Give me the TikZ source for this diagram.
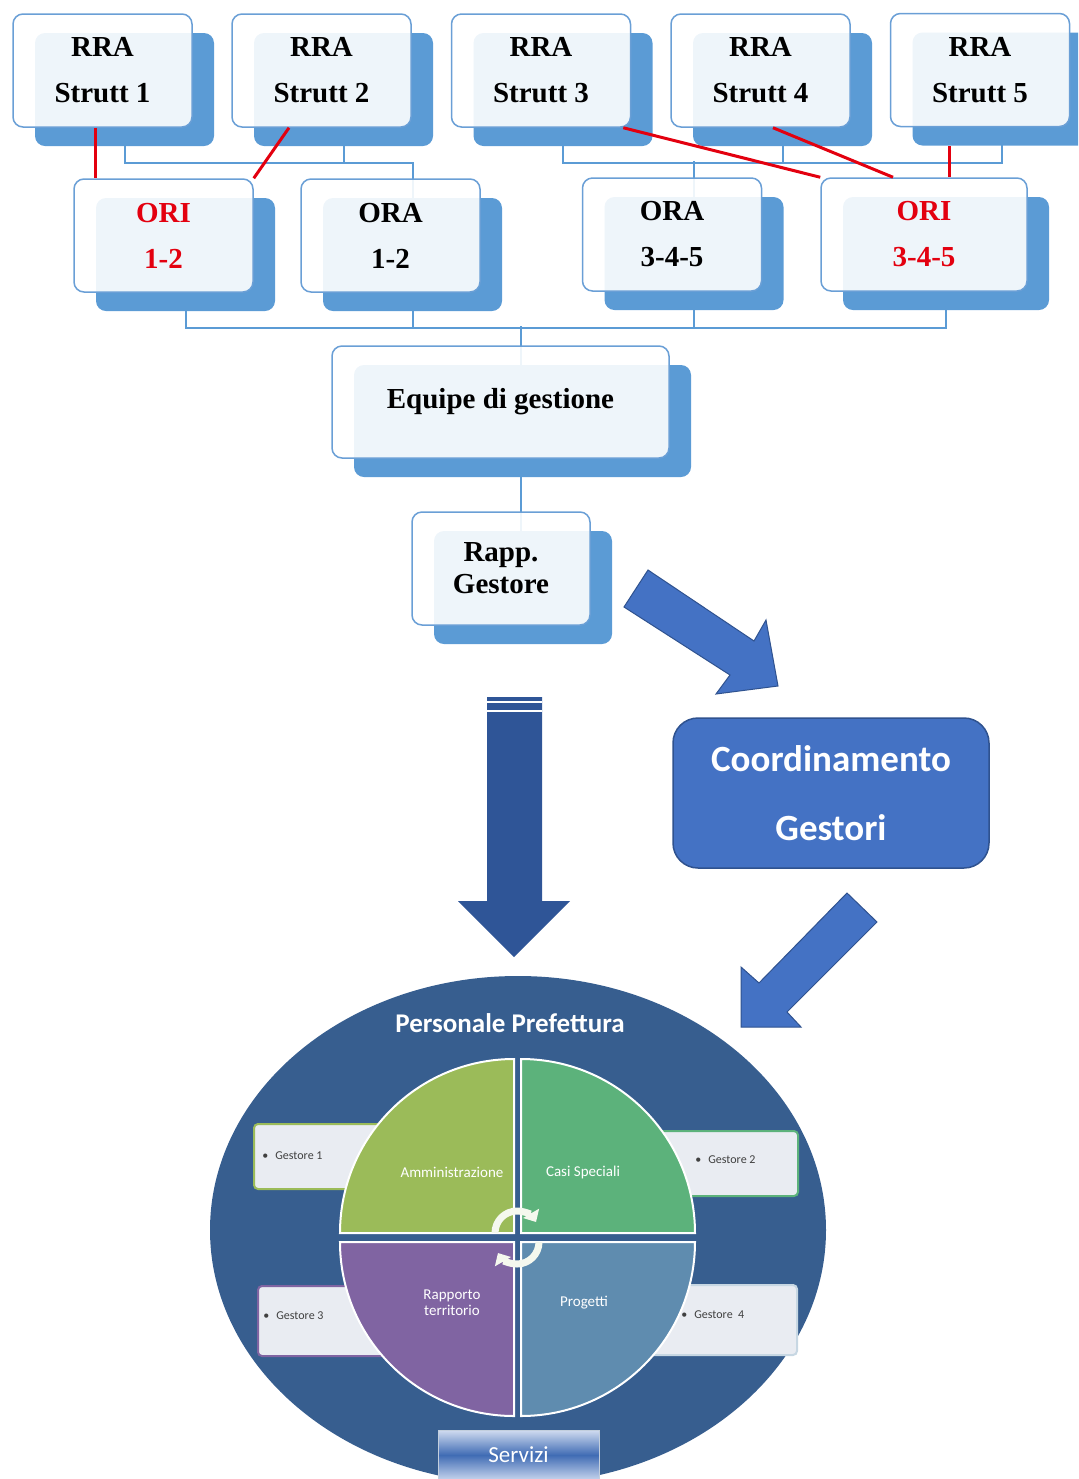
\documentclass[tikz,border=0pt]{standalone}
\usepackage{fontspec}
\setmainfont{Liberation Serif}
\newfontfamily\calibri{Carlito}
\usetikzlibrary{shadows,backgrounds,shapes.geometric,arrows.meta}

\definecolor{bleuboite}{HTML}{5B9BD5}
\definecolor{bordboite}{HTML}{6A9FD6}
\definecolor{rougeori}{HTML}{E3000F}
\definecolor{bleufleche}{HTML}{4472C4}
\definecolor{bordfleche}{HTML}{2F528F}
\definecolor{bleufonce}{HTML}{2F5597}
\definecolor{bleucercle}{HTML}{375E8F}
\definecolor{vertA}{HTML}{9BBB59}
\definecolor{vertB}{HTML}{5CB27B}
\definecolor{violetC}{HTML}{8064A2}
\definecolor{bleuD}{HTML}{5F8CAF}
\definecolor{grisfond}{HTML}{E9ECF2}

\tikzset{
  boite/.style={draw=bordboite, line width=0.75pt, fill=white, fill opacity=0.9, text opacity=1,
    rounded corners=5pt, minimum width=89.5pt, minimum height=56.5pt, inner sep=0pt, align=center,
    font=\bfseries\fontsize{14.5}{23}\selectfont,
    drop shadow={shadow xshift=11pt, shadow yshift=-9.5pt, fill=bleuboite, opacity=1}},
  lien/.style={draw=bleuboite, line width=1pt},
  rouge/.style={draw=rougeori, line width=1.5pt},
  fleche/.style={fill=bleufleche, draw=bordfleche, line width=0.5pt},
  quart/.style={draw=white, line width=1pt},
  gestbox/.style={draw=#1, line width=1pt, fill=grisfond, rounded corners=2pt, inner sep=0pt},
  gesttxt/.style={anchor=west, inner sep=0pt, text=black!75, font=\calibri\fontsize{6}{7}\selectfont},
  quarttxt/.style={text=white, align=center, inner sep=0pt, font=\calibri\fontsize{7.5}{8}\selectfont},
  tourne/.style={draw=white!90!vertA, line width=3.5pt, -{Triangle[width=9pt,length=5pt]}},
}

\begin{document}
\begin{tikzpicture}[x=0.5pt,y=0.5pt]
\useasboundingbox (0,0) rectangle (1078,-1479);
\clip (0,0) rectangle (1078,-1479);

% les cinq structures
\node[boite] (s1) at (102.5,-70.5) {RRA\\Strutt 1};
\node[boite] (s2) at (321.5,-70.5) {RRA\\Strutt 2};
\node[boite] (s3) at (541,-70.5) {RRA\\Strutt 3};
\node[boite] (s4) at (760.5,-70.5) {RRA\\Strutt 4};
\node[boite] (s5) at (980,-70) {RRA\\Strutt 5};

\node[boite, text=rougeori] (ori12) at (163.5,-235.5) {ORI\\1-2};
\node[boite] (ora12) at (390.5,-235.5) {ORA\\1-2};
\node[boite] (ora345) at (672,-234.5) {ORA\\3-4-5};
\node[boite, text=rougeori, minimum width=103pt] (ori345) at (924,-234.5) {ORI\\3-4-5};

\node[boite, minimum width=168.5pt, minimum height=56pt] (eq) at (500.5,-402) {Equipe di gestione};
\node[boite, minimum width=89pt, font=\bfseries\fontsize{14.5}{16}\selectfont] (rg) at (501,-568.5) {Rapp.\\Gestore};

\begin{scope}[on background layer] % traits bleus sous les boites
\draw[lien] ([xshift=11pt]s1.south) -- ++(0,-35) -| ([xshift=11pt,yshift=-10pt]ora12.north);
\draw[lien] ([xshift=11pt]s2.south) -- ++(0,-35);
\draw[lien] ([xshift=11pt]s3.south) -- ++(0,-35) -| ([xshift=11pt]s5.south);
\draw[lien] ([xshift=11pt]s4.south) -- ++(0,-35);
\draw[lien] ([xshift=11pt,yshift=-10pt]ora345.north) -- ++(0,36);
\draw[lien] ([xshift=11pt]ori12.south) -- ++(0,-35) -| ([xshift=11pt]ori345.south);
\draw[lien] ([xshift=11pt]ora12.south) -- ++(0,-35);
\draw[lien] ([xshift=11pt]ora345.south) -- ++(0,-35);
\draw[lien] ([xshift=10.25pt,yshift=-10pt]eq.north) -- ++(0,39);
\draw[lien] ([xshift=10.25pt]eq.south) -- ([xshift=10pt,yshift=-10pt]rg.north);
\end{scope}

% liens ORI en rouge
\coordinate (r1) at ([xshift=-3.75pt]s1.south);
\coordinate (r5) at ([xshift=-15.5pt,yshift=-9.5pt]s5.south);
\draw[rouge] (r1) -- (r1 |- ori12.north);
\draw[rouge] ([xshift=-16.25pt]s2.south) -- (ori12.north east);
\draw[rouge] ([xshift=-4pt]s3.south east) -- (ori345.north west);
\draw[rouge] ([xshift=6.25pt]s4.south) -- ([xshift=-15.5pt]ori345.north);
\draw[rouge] (r5) -- (r5 |- ori345.north);

% grosses fleches
\filldraw[fleche] (624,-607) -- (648,-570) -- (754,-641) -- (766,-620) -- (778,-686) -- (716,-694) -- (730,-675) -- cycle;
\fill[bleufonce] (487,-697) -- (542,-697) -- (542,-901) -- (570,-901) -- (514,-957) -- (458,-901) -- (487,-901) -- cycle;
\draw[white, line width=0.75pt] (487,-702) -- (542,-702) (487,-711) -- (542,-711);
\filldraw[fleche] (877,-922) -- (847,-893) -- (759,-983) -- (741,-967) -- (741,-1027) -- (801,-1027) -- (787,-1012) -- cycle;

\node[draw=bordfleche, line width=0.75pt, fill=bleufleche, rounded corners=12.5pt, minimum width=158pt, minimum height=75pt,
  text=white, align=center, font=\calibri\bfseries\fontsize{18.5}{34.5}\selectfont] (coord) at (831,-793) {Coordinamento\\Gestori};

% le cercle de la prefecture
\node[ellipse, fill=bleucercle, minimum width=308pt, minimum height=254pt, inner sep=0pt] (pers) at (518,-1230) {};
\node[text=white, font=\calibri\bfseries\fontsize{13.5}{16}\selectfont] (titre) at (510,-1023) {Personale Prefettura};

\node[gestbox=vertA, minimum width=75pt, minimum height=32.5pt] (g1b) at (329,-1156.5) {};
\node[gestbox=vertB, minimum width=74pt, minimum height=32.5pt] (g2b) at (724,-1163.5) {};
\node[gestbox=violetC, minimum width=75pt, minimum height=35pt] (g3b) at (333,-1321) {};
\node[gestbox=bleuD!35!white, minimum width=74.5pt, minimum height=35pt] (g4b) at (722.5,-1320) {};

\filldraw[quart, fill=vertA] (514,-1233) -- (340,-1233) arc[start angle=180, end angle=90, radius=87pt] -- cycle;
\filldraw[quart, fill=vertB] (521,-1233) -- (521,-1059) arc[start angle=90, end angle=0, radius=87pt] -- cycle;
\filldraw[quart, fill=violetC] (514,-1242) -- (514,-1416) arc[start angle=270, end angle=180, radius=87pt] -- cycle;
\filldraw[quart, fill=bleuD] (521,-1242) -- (695,-1242) arc[start angle=0, end angle=-90, radius=87pt] -- cycle;

\draw[tourne] (495,-1233) arc[start angle=180, end angle=30, radius=11pt];
\draw[tourne] (539,-1242) arc[start angle=0, end angle=-150, radius=11pt];

\node[quarttxt] (qa) at (452,-1172) {Amministrazione};
\node[quarttxt] (qb) at (583,-1172) {Casi Speciali};
\node[quarttxt] (qc) at (452,-1303) {Rapporto\\territorio};
\node[quarttxt] (qd) at (584,-1303) {Progetti};

\node[gesttxt] (g1) at (262,-1156) {\textbullet\hspace{3.5pt}Gestore 1};
\node[gesttxt] (g2) at (695,-1160) {\textbullet\hspace{3.5pt}Gestore 2};
\node[gesttxt] (g3) at (263,-1316) {\textbullet\hspace{3.5pt}Gestore 3};
\node[gesttxt] (g4) at (681,-1315) {\textbullet\hspace{3.5pt}Gestore\ \ 4};

\node[draw=white!70!bleucercle, line width=0.5pt, top color=white!75!bleufleche, bottom color=white!70!bleufleche,
  middle color=bleufleche!70!bleucercle, minimum width=80.5pt, minimum height=25pt, text=white,
  font=\calibri\fontsize{11.5}{12}\selectfont] (serv) at (518.5,-1455) {Servizi};
\end{tikzpicture}
\end{document}
